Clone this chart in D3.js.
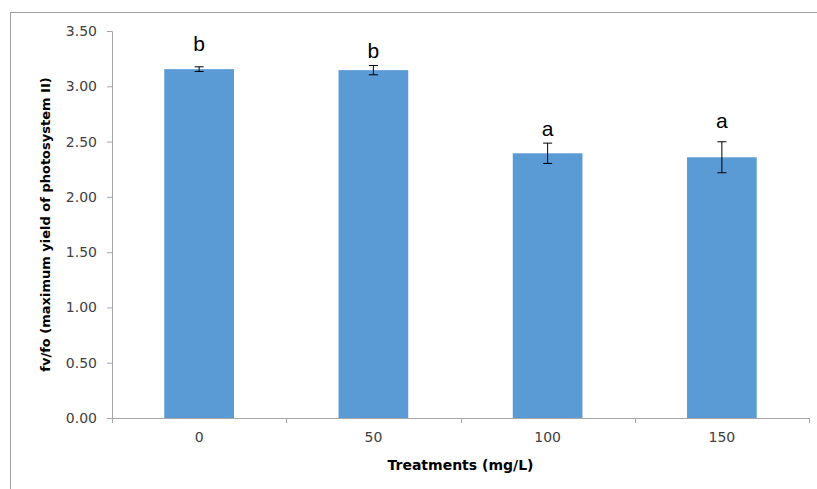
<!DOCTYPE html>
<html>
<head>
<meta charset="utf-8">
<script src="https://cdn.jsdelivr.net/npm/d3@7"></script>
<style>
  body { margin: 0; background: #fff; }
  svg { display: block; }
</style>
</head>
<body>
<script>
// chart data
const treatments = ['0', '50', '100', '150'];
const means = [3.155, 3.146, 2.394, 2.358];
const errors = [0.021, 0.042, 0.092, 0.14];
const letters = ['b', 'b', 'a', 'a'];
const yTicks = [0, 0.5, 1, 1.5, 2, 2.5, 3, 3.5];

const width = 817, height = 489;
const margin = { left: 112, right: 8, top: 31, bottom: 71 };

// letters were placed by hand in the original, pixels above the error bar
const labelGap = [16, 7, 7, 14];

const svg = d3.select('body')
  .append('svg')
  .attr('width', width)
  .attr('height', height);

// outer frame
svg.append('rect')
  .attr('x', 10.5).attr('y', 12.5)
  .attr('width', 830).attr('height', 500)
  .attr('fill', 'none')
  .attr('stroke', '#a0a0a0')
  .attr('stroke-width', 1);

const x = d3.scaleBand()
  .domain(treatments)
  .range([margin.left, width - margin.right])
  .paddingInner(0.6)
  .paddingOuter(0.3);

const xTickScale = d3.scaleBand()
  .domain(treatments)
  .range([margin.left, width - margin.right]);

const y = d3.scaleLinear()
  .domain([0, 3.5])
  .range([height - margin.bottom, margin.top]);

// y axis
const yAxis = svg.append('g')
  .attr('transform', `translate(${margin.left},0)`)
  .call(d3.axisLeft(y).tickValues(yTicks).tickFormat(d3.format('.2f')).tickSize(5).tickPadding(10));
yAxis.select('.domain').attr('stroke', '#a6a6a6');
yAxis.selectAll('.tick line').attr('stroke', '#a6a6a6');
yAxis.selectAll('.tick text')
  .attr('fill', '#404040')
  .style('font-family', 'DejaVu Sans, Verdana, sans-serif')
  .style('font-size', '14px');

// bars
svg.selectAll('rect.bar')
  .data(treatments)
  .enter()
  .append('rect')
  .attr('class', 'bar')
  .attr('x', d => x(d))
  .attr('width', x.bandwidth())
  .attr('y', (d, i) => y(means[i]))
  .attr('height', (d, i) => y(0) - y(means[i]))
  .attr('fill', '#5b9bd5');

// x axis
const xAxis = svg.append('g')
  .attr('transform', `translate(0,${y(0)})`)
  .call(d3.axisBottom(xTickScale).tickSize(0).tickPadding(14));
xAxis.select('.domain').attr('stroke', '#a6a6a6');
xAxis.selectAll('.tick text')
  .attr('fill', '#404040')
  .style('font-family', 'DejaVu Sans, Verdana, sans-serif')
  .style('font-size', '14px');

// category separator ticks
const bounds = treatments.map(d => xTickScale(d)).concat([width - margin.right]);
xAxis.selectAll('line.sep')
  .data(bounds)
  .enter()
  .append('line')
  .attr('class', 'sep')
  .attr('x1', d => Math.round(d) + 0.5)
  .attr('x2', d => Math.round(d) + 0.5)
  .attr('y1', 0)
  .attr('y2', 5)
  .attr('stroke', '#a6a6a6');

// error bars
const cx = d => x(d) + x.bandwidth() / 2;
const eb = svg.append('g').attr('stroke', '#000').attr('stroke-width', 1);
treatments.forEach((d, i) => {
  const top = y(means[i] + errors[i]);
  const bot = y(means[i] - errors[i]);
  eb.append('line').attr('x1', cx(d)).attr('x2', cx(d)).attr('y1', top).attr('y2', bot);
  eb.append('line').attr('x1', cx(d) - 4.5).attr('x2', cx(d) + 4.5).attr('y1', top).attr('y2', top);
  eb.append('line').attr('x1', cx(d) - 4.5).attr('x2', cx(d) + 4.5).attr('y1', bot).attr('y2', bot);
});

// significance letters
svg.selectAll('text.letter')
  .data(treatments)
  .enter()
  .append('text')
  .attr('class', 'letter')
  .attr('x', d => cx(d))
  .attr('y', (d, i) => y(means[i] + errors[i]) - labelGap[i])
  .attr('text-anchor', 'middle')
  .style('font-family', 'Liberation Sans, Arial, sans-serif')
  .style('font-size', '21px')
  .attr('fill', '#000')
  .text((d, i) => letters[i]);

// axis titles
svg.append('text')
  .attr('x', (margin.left + width - margin.right) / 2)
  .attr('y', 470)
  .attr('text-anchor', 'middle')
  .style('font-family', 'DejaVu Sans, Verdana, sans-serif')
  .style('font-size', '14px')
  .style('font-weight', 'bold')
  .text('Treatments (mg/L)');

svg.append('text')
  .attr('transform', `translate(50,${y(1.75)}) rotate(-90)`)
  .attr('text-anchor', 'middle')
  .style('font-family', 'DejaVu Sans, Verdana, sans-serif')
  .style('font-size', '13px')
  .style('font-weight', 'bold')
  .text('fv/fo (maximum yield of photosystem II)');
</script>
</body>
</html>
